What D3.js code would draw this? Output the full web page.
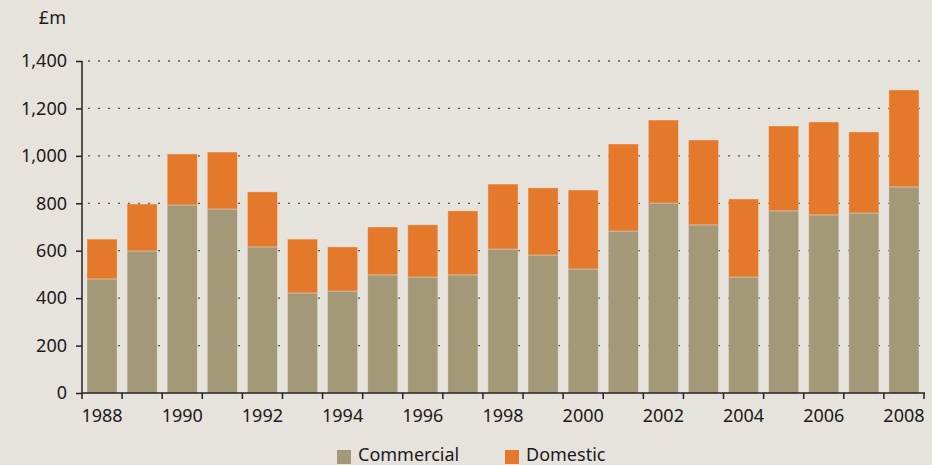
<!DOCTYPE html>
<html><head><meta charset="utf-8">
<script src="https://cdn.jsdelivr.net/npm/d3@7"></script>
<style>
html,body{margin:0;padding:0;background:#E6E2DC;}
svg{display:block;font-family:"Noto Sans","Open Sans",sans-serif;}
</style></head>
<body>
<svg id="c" width="932" height="465"></svg>
<script>
const years = [1988,1989,1990,1991,1992,1993,1994,1995,1996,1997,1998,1999,2000,2001,2002,2003,2004,2005,2006,2007,2008];
const commercial = [481,599,793,776,616,422,430,498,489,498,607,582,523,683,801,709,489,768,751,759,869];
const domestic   = [168,198,215,240,232,227,186,202,220,270,274,283,333,367,350,358,329,358,392,342,409];
const yTicks = [0,200,400,600,800,1000,1200,1400];
const xLabelYears = [1988,1990,1992,1994,1996,1998,2000,2002,2004,2006,2008];
const seriesNames = ["Commercial","Domestic"];
const colors = ["#A39878","#E4792B"];

(function () {
const svg = d3.select("#c");
const mLeft = 82, mRight = 924, mTop = 61, mBottom = 393;
const fs = 18;

const x = d3.scaleBand().domain(years).range([mLeft, mRight]).paddingInner(0.25).paddingOuter(0.125);
const y = d3.scaleLinear().domain([0, 1400]).range([mBottom, mTop]);

// gridlines
svg.append("g").selectAll("line").data(yTicks.filter(d => d > 0)).join("line")
  .attr("x1", mLeft).attr("x2", mRight)
  .attr("y1", d => y(d)).attr("y2", d => y(d))
  .attr("stroke", "#555").attr("stroke-width", 1.3)
  .attr("stroke-dasharray", "2,8").attr("stroke-dashoffset", -6);

// stacked data
const rows = years.map((yr, i) => ({year: yr, Commercial: commercial[i], Domestic: domestic[i]}));
const stack = d3.stack().keys(seriesNames)(rows);

svg.append("g").selectAll("g").data(stack).join("g")
  .attr("fill", (d, i) => colors[i])
  .selectAll("rect").data(d => d).join("rect")
  .attr("x", d => x(d.data.year))
  .attr("width", x.bandwidth())
  .attr("y", d => y(d[1]))
  .attr("height", d => y(d[0]) - y(d[1]))
  .attr("stroke", "#F0E6D8").attr("stroke-opacity", 0.5).attr("stroke-width", 0.8);

// y axis
const yAxis = d3.axisLeft(y).tickValues(yTicks).tickSize(6).tickPadding(9)
  .tickFormat(d3.format(","));
const gy = svg.append("g").attr("transform", `translate(${mLeft},0)`).call(yAxis);
gy.select(".domain").attr("stroke", "#222").attr("stroke-width", 1.5).attr("d", `M0,${mBottom}V${mTop}`);
gy.selectAll(".tick line").attr("stroke", "#222").attr("stroke-width", 1.5);
gy.selectAll(".tick text").attr("font-size", fs).attr("fill", "#1a1a1a")
  .attr("font-family", "Noto Sans, Open Sans, sans-serif");

// x axis line and boundary ticks
const half = (x.step() - x.bandwidth()) / 2;
const bounds = years.map(yr => x(yr) - half).concat([x(years[years.length-1]) + x.bandwidth() + half]);
const gx = svg.append("g");
gx.append("line").attr("x1", mLeft).attr("x2", mRight + 1).attr("y1", mBottom).attr("y2", mBottom)
  .attr("stroke", "#222").attr("stroke-width", 1.5);
gx.selectAll("line.t").data(bounds).join("line").attr("class", "t")
  .attr("x1", d => d).attr("x2", d => d).attr("y1", mBottom).attr("y2", mBottom + 6)
  .attr("stroke", "#222").attr("stroke-width", 1.5);
gx.selectAll("text").data(xLabelYears).join("text")
  .attr("x", d => x(d) + x.bandwidth() / 2).attr("y", mBottom + 29)
  .attr("text-anchor", "middle").attr("font-size", fs).attr("fill", "#1a1a1a")
  .text(d => d);

// unit label
svg.append("text").attr("x", 66).attr("y", 24).attr("text-anchor", "end")
  .attr("font-size", fs).attr("fill", "#1a1a1a").text("£m");

// legend
const legendX = [337, 505];
const lg = svg.append("g");
seriesNames.forEach((name, i) => {
  lg.append("rect").attr("x", legendX[i]).attr("y", 450).attr("width", 14).attr("height", 14).attr("fill", colors[i]);
  lg.append("text").attr("x", legendX[i] + 21).attr("y", 461).attr("font-size", fs).attr("fill", "#1a1a1a").text(name);
});
})();
</script>
</body></html>
